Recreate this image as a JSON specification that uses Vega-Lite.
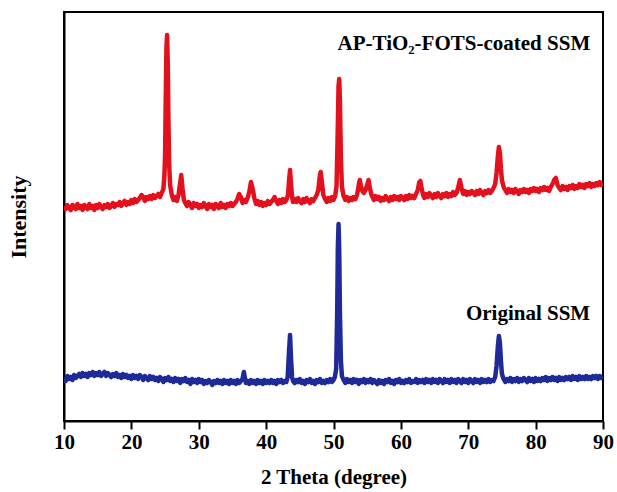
{
  "$schema": "https://vega.github.io/schema/vega-lite/v6.json",
  "width": 539,
  "height": 409,
  "autosize": {"type": "none"},
  "padding": {"left": 64, "top": 12, "right": 14, "bottom": 71},
  "background": "white",
  "config": {
    "view": {"stroke": "black", "strokeWidth": 2},
    "font": "Liberation Serif"
  },
  "datasets": {
    "xrd": [
{"s":"AP","x":10.00,"y":215},{"s":"AP","x":10.25,"y":212},{"s":"AP","x":10.50,"y":216},{"s":"AP","x":10.75,"y":213},{"s":"AP","x":11.00,"y":211},{"s":"AP","x":11.25,"y":216},{"s":"AP","x":11.50,"y":214},{"s":"AP","x":11.75,"y":212},{"s":"AP","x":12.00,"y":217},{"s":"AP","x":12.25,"y":213},{"s":"AP","x":12.50,"y":215},{"s":"AP","x":12.75,"y":211},{"s":"AP","x":13.00,"y":216},{"s":"AP","x":13.25,"y":214},{"s":"AP","x":13.50,"y":212},{"s":"AP","x":13.75,"y":217},{"s":"AP","x":14.00,"y":213},{"s":"AP","x":14.25,"y":215},{"s":"AP","x":14.50,"y":211},{"s":"AP","x":14.75,"y":216},{"s":"AP","x":15.00,"y":213},{"s":"AP","x":15.25,"y":217},{"s":"AP","x":15.50,"y":214},{"s":"AP","x":15.75,"y":212},{"s":"AP","x":16.00,"y":216},{"s":"AP","x":16.25,"y":214},{"s":"AP","x":16.50,"y":217},{"s":"AP","x":16.75,"y":213},{"s":"AP","x":17.00,"y":215},{"s":"AP","x":17.25,"y":218},{"s":"AP","x":17.50,"y":214},{"s":"AP","x":17.75,"y":217},{"s":"AP","x":18.00,"y":216},{"s":"AP","x":18.25,"y":219},{"s":"AP","x":18.50,"y":215},{"s":"AP","x":18.75,"y":218},{"s":"AP","x":19.00,"y":220},{"s":"AP","x":19.25,"y":216},{"s":"AP","x":19.50,"y":219},{"s":"AP","x":19.75,"y":217},{"s":"AP","x":20.00,"y":221},{"s":"AP","x":20.25,"y":218},{"s":"AP","x":20.50,"y":222},{"s":"AP","x":20.75,"y":219},{"s":"AP","x":21.00,"y":221},{"s":"AP","x":21.25,"y":223},{"s":"AP","x":21.50,"y":226},{"s":"AP","x":21.75,"y":224},{"s":"AP","x":22.00,"y":220},{"s":"AP","x":22.25,"y":224},{"s":"AP","x":22.50,"y":222},{"s":"AP","x":22.75,"y":225},{"s":"AP","x":23.00,"y":222},{"s":"AP","x":23.25,"y":226},{"s":"AP","x":23.50,"y":223},{"s":"AP","x":23.75,"y":225},{"s":"AP","x":24.00,"y":227},{"s":"AP","x":24.25,"y":224},{"s":"AP","x":24.50,"y":228},{"s":"AP","x":24.75,"y":232},{"s":"AP","x":24.90,"y":245},{"s":"AP","x":25.00,"y":265},{"s":"AP","x":25.10,"y":320},{"s":"AP","x":25.20,"y":372},{"s":"AP","x":25.30,"y":386},{"s":"AP","x":25.40,"y":358},{"s":"AP","x":25.50,"y":300},{"s":"AP","x":25.60,"y":258},{"s":"AP","x":25.75,"y":236},{"s":"AP","x":26.00,"y":226},{"s":"AP","x":26.25,"y":221},{"s":"AP","x":26.50,"y":224},{"s":"AP","x":26.75,"y":220},{"s":"AP","x":27.00,"y":226},{"s":"AP","x":27.20,"y":236},{"s":"AP","x":27.40,"y":246},{"s":"AP","x":27.60,"y":232},{"s":"AP","x":27.80,"y":221},{"s":"AP","x":28.00,"y":218},{"s":"AP","x":28.25,"y":215},{"s":"AP","x":28.50,"y":219},{"s":"AP","x":28.75,"y":216},{"s":"AP","x":29.00,"y":213},{"s":"AP","x":29.25,"y":218},{"s":"AP","x":29.50,"y":215},{"s":"AP","x":29.75,"y":217},{"s":"AP","x":30.00,"y":213},{"s":"AP","x":30.25,"y":216},{"s":"AP","x":30.50,"y":214},{"s":"AP","x":30.75,"y":218},{"s":"AP","x":31.00,"y":215},{"s":"AP","x":31.25,"y":212},{"s":"AP","x":31.50,"y":217},{"s":"AP","x":31.75,"y":214},{"s":"AP","x":32.00,"y":216},{"s":"AP","x":32.25,"y":212},{"s":"AP","x":32.50,"y":217},{"s":"AP","x":32.75,"y":215},{"s":"AP","x":33.00,"y":213},{"s":"AP","x":33.25,"y":218},{"s":"AP","x":33.50,"y":214},{"s":"AP","x":33.75,"y":216},{"s":"AP","x":34.00,"y":213},{"s":"AP","x":34.25,"y":217},{"s":"AP","x":34.50,"y":215},{"s":"AP","x":34.75,"y":218},{"s":"AP","x":35.00,"y":215},{"s":"AP","x":35.25,"y":217},{"s":"AP","x":35.50,"y":219},{"s":"AP","x":35.75,"y":222},{"s":"AP","x":36.00,"y":227},{"s":"AP","x":36.25,"y":224},{"s":"AP","x":36.50,"y":218},{"s":"AP","x":36.75,"y":221},{"s":"AP","x":37.00,"y":219},{"s":"AP","x":37.25,"y":223},{"s":"AP","x":37.50,"y":229},{"s":"AP","x":37.75,"y":239},{"s":"AP","x":38.00,"y":232},{"s":"AP","x":38.25,"y":223},{"s":"AP","x":38.50,"y":217},{"s":"AP","x":38.75,"y":220},{"s":"AP","x":39.00,"y":216},{"s":"AP","x":39.25,"y":219},{"s":"AP","x":39.50,"y":215},{"s":"AP","x":39.75,"y":218},{"s":"AP","x":40.00,"y":216},{"s":"AP","x":40.25,"y":220},{"s":"AP","x":40.50,"y":217},{"s":"AP","x":40.75,"y":219},{"s":"AP","x":41.00,"y":221},{"s":"AP","x":41.25,"y":224},{"s":"AP","x":41.50,"y":220},{"s":"AP","x":41.75,"y":217},{"s":"AP","x":42.00,"y":221},{"s":"AP","x":42.25,"y":218},{"s":"AP","x":42.50,"y":222},{"s":"AP","x":42.75,"y":219},{"s":"AP","x":43.00,"y":221},{"s":"AP","x":43.25,"y":226},{"s":"AP","x":43.40,"y":240},{"s":"AP","x":43.55,"y":251},{"s":"AP","x":43.70,"y":236},{"s":"AP","x":43.85,"y":224},{"s":"AP","x":44.00,"y":219},{"s":"AP","x":44.25,"y":222},{"s":"AP","x":44.50,"y":219},{"s":"AP","x":44.75,"y":223},{"s":"AP","x":45.00,"y":220},{"s":"AP","x":45.25,"y":218},{"s":"AP","x":45.50,"y":222},{"s":"AP","x":45.75,"y":219},{"s":"AP","x":46.00,"y":223},{"s":"AP","x":46.25,"y":220},{"s":"AP","x":46.50,"y":218},{"s":"AP","x":46.75,"y":222},{"s":"AP","x":47.00,"y":220},{"s":"AP","x":47.25,"y":223},{"s":"AP","x":47.50,"y":226},{"s":"AP","x":47.75,"y":231},{"s":"AP","x":47.95,"y":244},{"s":"AP","x":48.10,"y":249},{"s":"AP","x":48.25,"y":240},{"s":"AP","x":48.50,"y":226},{"s":"AP","x":48.75,"y":222},{"s":"AP","x":49.00,"y":219},{"s":"AP","x":49.25,"y":223},{"s":"AP","x":49.50,"y":220},{"s":"AP","x":49.75,"y":224},{"s":"AP","x":50.00,"y":221},{"s":"AP","x":50.25,"y":225},{"s":"AP","x":50.45,"y":235},{"s":"AP","x":50.60,"y":280},{"s":"AP","x":50.75,"y":335},{"s":"AP","x":50.85,"y":342},{"s":"AP","x":50.95,"y":320},{"s":"AP","x":51.10,"y":262},{"s":"AP","x":51.25,"y":234},{"s":"AP","x":51.50,"y":225},{"s":"AP","x":51.75,"y":221},{"s":"AP","x":52.00,"y":224},{"s":"AP","x":52.25,"y":220},{"s":"AP","x":52.50,"y":223},{"s":"AP","x":52.75,"y":221},{"s":"AP","x":53.00,"y":224},{"s":"AP","x":53.25,"y":222},{"s":"AP","x":53.50,"y":226},{"s":"AP","x":53.75,"y":236},{"s":"AP","x":53.90,"y":241},{"s":"AP","x":54.10,"y":234},{"s":"AP","x":54.30,"y":230},{"s":"AP","x":54.50,"y":228},{"s":"AP","x":54.75,"y":231},{"s":"AP","x":55.00,"y":236},{"s":"AP","x":55.20,"y":241},{"s":"AP","x":55.40,"y":233},{"s":"AP","x":55.60,"y":227},{"s":"AP","x":55.80,"y":224},{"s":"AP","x":56.00,"y":221},{"s":"AP","x":56.25,"y":225},{"s":"AP","x":56.50,"y":222},{"s":"AP","x":56.75,"y":224},{"s":"AP","x":57.00,"y":220},{"s":"AP","x":57.25,"y":223},{"s":"AP","x":57.50,"y":221},{"s":"AP","x":57.75,"y":225},{"s":"AP","x":58.00,"y":222},{"s":"AP","x":58.25,"y":220},{"s":"AP","x":58.50,"y":224},{"s":"AP","x":58.75,"y":221},{"s":"AP","x":59.00,"y":225},{"s":"AP","x":59.25,"y":222},{"s":"AP","x":59.50,"y":224},{"s":"AP","x":59.75,"y":221},{"s":"AP","x":60.00,"y":225},{"s":"AP","x":60.25,"y":223},{"s":"AP","x":60.50,"y":221},{"s":"AP","x":60.75,"y":225},{"s":"AP","x":61.00,"y":222},{"s":"AP","x":61.25,"y":226},{"s":"AP","x":61.50,"y":223},{"s":"AP","x":61.75,"y":225},{"s":"AP","x":62.00,"y":223},{"s":"AP","x":62.25,"y":227},{"s":"AP","x":62.50,"y":231},{"s":"AP","x":62.75,"y":239},{"s":"AP","x":62.90,"y":240},{"s":"AP","x":63.10,"y":232},{"s":"AP","x":63.30,"y":226},{"s":"AP","x":63.50,"y":223},{"s":"AP","x":63.75,"y":227},{"s":"AP","x":64.00,"y":224},{"s":"AP","x":64.25,"y":228},{"s":"AP","x":64.50,"y":225},{"s":"AP","x":64.75,"y":223},{"s":"AP","x":65.00,"y":227},{"s":"AP","x":65.25,"y":224},{"s":"AP","x":65.50,"y":228},{"s":"AP","x":65.75,"y":225},{"s":"AP","x":66.00,"y":223},{"s":"AP","x":66.25,"y":227},{"s":"AP","x":66.50,"y":225},{"s":"AP","x":66.75,"y":228},{"s":"AP","x":67.00,"y":224},{"s":"AP","x":67.25,"y":227},{"s":"AP","x":67.50,"y":225},{"s":"AP","x":67.75,"y":229},{"s":"AP","x":68.00,"y":226},{"s":"AP","x":68.25,"y":228},{"s":"AP","x":68.50,"y":233},{"s":"AP","x":68.75,"y":241},{"s":"AP","x":69.00,"y":233},{"s":"AP","x":69.25,"y":227},{"s":"AP","x":69.50,"y":230},{"s":"AP","x":69.75,"y":226},{"s":"AP","x":70.00,"y":229},{"s":"AP","x":70.25,"y":227},{"s":"AP","x":70.50,"y":230},{"s":"AP","x":70.75,"y":228},{"s":"AP","x":71.00,"y":226},{"s":"AP","x":71.25,"y":230},{"s":"AP","x":71.50,"y":227},{"s":"AP","x":71.75,"y":231},{"s":"AP","x":72.00,"y":228},{"s":"AP","x":72.25,"y":226},{"s":"AP","x":72.50,"y":230},{"s":"AP","x":72.75,"y":228},{"s":"AP","x":73.00,"y":231},{"s":"AP","x":73.25,"y":228},{"s":"AP","x":73.50,"y":230},{"s":"AP","x":73.75,"y":233},{"s":"AP","x":74.00,"y":237},{"s":"AP","x":74.20,"y":248},{"s":"AP","x":74.40,"y":265},{"s":"AP","x":74.55,"y":274},{"s":"AP","x":74.70,"y":268},{"s":"AP","x":74.85,"y":252},{"s":"AP","x":75.00,"y":241},{"s":"AP","x":75.25,"y":234},{"s":"AP","x":75.50,"y":231},{"s":"AP","x":75.75,"y":228},{"s":"AP","x":76.00,"y":232},{"s":"AP","x":76.25,"y":229},{"s":"AP","x":76.50,"y":231},{"s":"AP","x":76.75,"y":228},{"s":"AP","x":77.00,"y":232},{"s":"AP","x":77.25,"y":230},{"s":"AP","x":77.50,"y":227},{"s":"AP","x":77.75,"y":231},{"s":"AP","x":78.00,"y":229},{"s":"AP","x":78.25,"y":232},{"s":"AP","x":78.50,"y":229},{"s":"AP","x":78.75,"y":231},{"s":"AP","x":79.00,"y":228},{"s":"AP","x":79.25,"y":232},{"s":"AP","x":79.50,"y":230},{"s":"AP","x":79.75,"y":233},{"s":"AP","x":80.00,"y":230},{"s":"AP","x":80.25,"y":232},{"s":"AP","x":80.50,"y":229},{"s":"AP","x":80.75,"y":233},{"s":"AP","x":81.00,"y":231},{"s":"AP","x":81.25,"y":234},{"s":"AP","x":81.50,"y":231},{"s":"AP","x":81.75,"y":233},{"s":"AP","x":82.00,"y":230},{"s":"AP","x":82.25,"y":234},{"s":"AP","x":82.50,"y":237},{"s":"AP","x":82.75,"y":241},{"s":"AP","x":83.00,"y":243},{"s":"AP","x":83.25,"y":236},{"s":"AP","x":83.50,"y":233},{"s":"AP","x":83.75,"y":231},{"s":"AP","x":84.00,"y":235},{"s":"AP","x":84.25,"y":232},{"s":"AP","x":84.50,"y":234},{"s":"AP","x":84.75,"y":231},{"s":"AP","x":85.00,"y":235},{"s":"AP","x":85.25,"y":233},{"s":"AP","x":85.50,"y":236},{"s":"AP","x":85.75,"y":232},{"s":"AP","x":86.00,"y":235},{"s":"AP","x":86.25,"y":233},{"s":"AP","x":86.50,"y":237},{"s":"AP","x":86.75,"y":234},{"s":"AP","x":87.00,"y":236},{"s":"AP","x":87.25,"y":233},{"s":"AP","x":87.50,"y":237},{"s":"AP","x":87.75,"y":235},{"s":"AP","x":88.00,"y":238},{"s":"AP","x":88.25,"y":234},{"s":"AP","x":88.50,"y":237},{"s":"AP","x":88.75,"y":235},{"s":"AP","x":89.00,"y":238},{"s":"AP","x":89.25,"y":236},{"s":"AP","x":89.50,"y":239},{"s":"AP","x":89.75,"y":236},{"s":"AP","x":90.00,"y":238},
{"s":"O","x":10.00,"y":43},{"s":"O","x":10.25,"y":40},{"s":"O","x":10.50,"y":45},{"s":"O","x":10.75,"y":42},{"s":"O","x":11.00,"y":44},{"s":"O","x":11.25,"y":41},{"s":"O","x":11.50,"y":46},{"s":"O","x":11.75,"y":43},{"s":"O","x":12.00,"y":45},{"s":"O","x":12.25,"y":47},{"s":"O","x":12.50,"y":44},{"s":"O","x":12.75,"y":48},{"s":"O","x":13.00,"y":45},{"s":"O","x":13.25,"y":47},{"s":"O","x":13.50,"y":44},{"s":"O","x":13.75,"y":48},{"s":"O","x":14.00,"y":46},{"s":"O","x":14.25,"y":49},{"s":"O","x":14.50,"y":45},{"s":"O","x":14.75,"y":48},{"s":"O","x":15.00,"y":46},{"s":"O","x":15.25,"y":49},{"s":"O","x":15.50,"y":45},{"s":"O","x":15.75,"y":47},{"s":"O","x":16.00,"y":49},{"s":"O","x":16.25,"y":45},{"s":"O","x":16.50,"y":48},{"s":"O","x":16.75,"y":46},{"s":"O","x":17.00,"y":44},{"s":"O","x":17.25,"y":47},{"s":"O","x":17.50,"y":45},{"s":"O","x":17.75,"y":48},{"s":"O","x":18.00,"y":44},{"s":"O","x":18.25,"y":46},{"s":"O","x":18.50,"y":43},{"s":"O","x":18.75,"y":47},{"s":"O","x":19.00,"y":44},{"s":"O","x":19.25,"y":46},{"s":"O","x":19.50,"y":43},{"s":"O","x":19.75,"y":45},{"s":"O","x":20.00,"y":42},{"s":"O","x":20.25,"y":46},{"s":"O","x":20.50,"y":43},{"s":"O","x":20.75,"y":45},{"s":"O","x":21.00,"y":42},{"s":"O","x":21.25,"y":46},{"s":"O","x":21.50,"y":44},{"s":"O","x":21.75,"y":41},{"s":"O","x":22.00,"y":45},{"s":"O","x":22.25,"y":43},{"s":"O","x":22.50,"y":41},{"s":"O","x":22.75,"y":45},{"s":"O","x":23.00,"y":42},{"s":"O","x":23.25,"y":44},{"s":"O","x":23.50,"y":41},{"s":"O","x":23.75,"y":43},{"s":"O","x":24.00,"y":40},{"s":"O","x":24.25,"y":44},{"s":"O","x":24.50,"y":42},{"s":"O","x":24.75,"y":39},{"s":"O","x":25.00,"y":43},{"s":"O","x":25.25,"y":41},{"s":"O","x":25.50,"y":44},{"s":"O","x":25.75,"y":40},{"s":"O","x":26.00,"y":42},{"s":"O","x":26.25,"y":39},{"s":"O","x":26.50,"y":43},{"s":"O","x":26.75,"y":40},{"s":"O","x":27.00,"y":42},{"s":"O","x":27.25,"y":38},{"s":"O","x":27.50,"y":42},{"s":"O","x":27.75,"y":40},{"s":"O","x":28.00,"y":43},{"s":"O","x":28.25,"y":39},{"s":"O","x":28.50,"y":41},{"s":"O","x":28.75,"y":37},{"s":"O","x":29.00,"y":42},{"s":"O","x":29.25,"y":39},{"s":"O","x":29.50,"y":41},{"s":"O","x":29.75,"y":38},{"s":"O","x":30.00,"y":42},{"s":"O","x":30.25,"y":39},{"s":"O","x":30.50,"y":41},{"s":"O","x":30.75,"y":37},{"s":"O","x":31.00,"y":40},{"s":"O","x":31.25,"y":38},{"s":"O","x":31.50,"y":41},{"s":"O","x":31.75,"y":39},{"s":"O","x":32.00,"y":36},{"s":"O","x":32.25,"y":40},{"s":"O","x":32.50,"y":38},{"s":"O","x":32.75,"y":41},{"s":"O","x":33.00,"y":38},{"s":"O","x":33.25,"y":40},{"s":"O","x":33.50,"y":37},{"s":"O","x":33.75,"y":41},{"s":"O","x":34.00,"y":38},{"s":"O","x":34.25,"y":40},{"s":"O","x":34.50,"y":37},{"s":"O","x":34.75,"y":41},{"s":"O","x":35.00,"y":38},{"s":"O","x":35.25,"y":40},{"s":"O","x":35.50,"y":37},{"s":"O","x":35.75,"y":41},{"s":"O","x":36.00,"y":38},{"s":"O","x":36.25,"y":40},{"s":"O","x":36.50,"y":42},{"s":"O","x":36.70,"y":49},{"s":"O","x":36.90,"y":41},{"s":"O","x":37.00,"y":38},{"s":"O","x":37.25,"y":40},{"s":"O","x":37.50,"y":37},{"s":"O","x":37.75,"y":41},{"s":"O","x":38.00,"y":38},{"s":"O","x":38.25,"y":40},{"s":"O","x":38.50,"y":37},{"s":"O","x":38.75,"y":41},{"s":"O","x":39.00,"y":38},{"s":"O","x":39.25,"y":40},{"s":"O","x":39.50,"y":37},{"s":"O","x":39.75,"y":41},{"s":"O","x":40.00,"y":38},{"s":"O","x":40.25,"y":40},{"s":"O","x":40.50,"y":38},{"s":"O","x":40.75,"y":41},{"s":"O","x":41.00,"y":38},{"s":"O","x":41.25,"y":40},{"s":"O","x":41.50,"y":37},{"s":"O","x":41.75,"y":41},{"s":"O","x":42.00,"y":39},{"s":"O","x":42.25,"y":41},{"s":"O","x":42.50,"y":38},{"s":"O","x":42.75,"y":40},{"s":"O","x":43.00,"y":39},{"s":"O","x":43.20,"y":44},{"s":"O","x":43.40,"y":70},{"s":"O","x":43.55,"y":86},{"s":"O","x":43.70,"y":62},{"s":"O","x":43.85,"y":44},{"s":"O","x":44.00,"y":40},{"s":"O","x":44.25,"y":38},{"s":"O","x":44.50,"y":41},{"s":"O","x":44.75,"y":39},{"s":"O","x":45.00,"y":42},{"s":"O","x":45.25,"y":38},{"s":"O","x":45.50,"y":40},{"s":"O","x":45.75,"y":37},{"s":"O","x":46.00,"y":41},{"s":"O","x":46.25,"y":39},{"s":"O","x":46.50,"y":42},{"s":"O","x":46.75,"y":38},{"s":"O","x":47.00,"y":40},{"s":"O","x":47.25,"y":37},{"s":"O","x":47.50,"y":41},{"s":"O","x":47.75,"y":39},{"s":"O","x":48.00,"y":42},{"s":"O","x":48.25,"y":38},{"s":"O","x":48.50,"y":40},{"s":"O","x":48.75,"y":38},{"s":"O","x":49.00,"y":41},{"s":"O","x":49.25,"y":39},{"s":"O","x":49.50,"y":42},{"s":"O","x":49.75,"y":39},{"s":"O","x":50.00,"y":41},{"s":"O","x":50.20,"y":44},{"s":"O","x":50.40,"y":52},{"s":"O","x":50.55,"y":110},{"s":"O","x":50.65,"y":175},{"s":"O","x":50.75,"y":197},{"s":"O","x":50.85,"y":170},{"s":"O","x":50.95,"y":110},{"s":"O","x":51.10,"y":60},{"s":"O","x":51.25,"y":45},{"s":"O","x":51.50,"y":41},{"s":"O","x":51.75,"y":38},{"s":"O","x":52.00,"y":42},{"s":"O","x":52.25,"y":39},{"s":"O","x":52.50,"y":41},{"s":"O","x":52.75,"y":38},{"s":"O","x":53.00,"y":42},{"s":"O","x":53.25,"y":39},{"s":"O","x":53.50,"y":41},{"s":"O","x":53.75,"y":37},{"s":"O","x":54.00,"y":41},{"s":"O","x":54.25,"y":39},{"s":"O","x":54.50,"y":42},{"s":"O","x":54.75,"y":38},{"s":"O","x":55.00,"y":41},{"s":"O","x":55.25,"y":39},{"s":"O","x":55.50,"y":42},{"s":"O","x":55.75,"y":38},{"s":"O","x":56.00,"y":41},{"s":"O","x":56.25,"y":39},{"s":"O","x":56.50,"y":37},{"s":"O","x":56.75,"y":41},{"s":"O","x":57.00,"y":38},{"s":"O","x":57.25,"y":40},{"s":"O","x":57.50,"y":37},{"s":"O","x":57.75,"y":41},{"s":"O","x":58.00,"y":39},{"s":"O","x":58.25,"y":42},{"s":"O","x":58.50,"y":38},{"s":"O","x":58.75,"y":40},{"s":"O","x":59.00,"y":37},{"s":"O","x":59.25,"y":41},{"s":"O","x":59.50,"y":39},{"s":"O","x":59.75,"y":42},{"s":"O","x":60.00,"y":38},{"s":"O","x":60.25,"y":40},{"s":"O","x":60.50,"y":38},{"s":"O","x":60.75,"y":41},{"s":"O","x":61.00,"y":39},{"s":"O","x":61.25,"y":42},{"s":"O","x":61.50,"y":38},{"s":"O","x":61.75,"y":40},{"s":"O","x":62.00,"y":39},{"s":"O","x":62.25,"y":42},{"s":"O","x":62.50,"y":38},{"s":"O","x":62.75,"y":41},{"s":"O","x":63.00,"y":39},{"s":"O","x":63.25,"y":41},{"s":"O","x":63.50,"y":38},{"s":"O","x":63.75,"y":42},{"s":"O","x":64.00,"y":39},{"s":"O","x":64.25,"y":41},{"s":"O","x":64.50,"y":38},{"s":"O","x":64.75,"y":42},{"s":"O","x":65.00,"y":39},{"s":"O","x":65.25,"y":41},{"s":"O","x":65.50,"y":38},{"s":"O","x":65.75,"y":42},{"s":"O","x":66.00,"y":40},{"s":"O","x":66.25,"y":38},{"s":"O","x":66.50,"y":42},{"s":"O","x":66.75,"y":39},{"s":"O","x":67.00,"y":41},{"s":"O","x":67.25,"y":38},{"s":"O","x":67.50,"y":42},{"s":"O","x":67.75,"y":39},{"s":"O","x":68.00,"y":41},{"s":"O","x":68.25,"y":38},{"s":"O","x":68.50,"y":42},{"s":"O","x":68.75,"y":40},{"s":"O","x":69.00,"y":38},{"s":"O","x":69.25,"y":42},{"s":"O","x":69.50,"y":39},{"s":"O","x":69.75,"y":41},{"s":"O","x":70.00,"y":38},{"s":"O","x":70.25,"y":42},{"s":"O","x":70.50,"y":40},{"s":"O","x":70.75,"y":38},{"s":"O","x":71.00,"y":42},{"s":"O","x":71.25,"y":39},{"s":"O","x":71.50,"y":41},{"s":"O","x":71.75,"y":38},{"s":"O","x":72.00,"y":42},{"s":"O","x":72.25,"y":39},{"s":"O","x":72.50,"y":41},{"s":"O","x":72.75,"y":39},{"s":"O","x":73.00,"y":42},{"s":"O","x":73.25,"y":39},{"s":"O","x":73.50,"y":41},{"s":"O","x":73.75,"y":40},{"s":"O","x":74.00,"y":44},{"s":"O","x":74.20,"y":55},{"s":"O","x":74.40,"y":75},{"s":"O","x":74.55,"y":85},{"s":"O","x":74.70,"y":78},{"s":"O","x":74.85,"y":60},{"s":"O","x":75.00,"y":47},{"s":"O","x":75.25,"y":42},{"s":"O","x":75.50,"y":39},{"s":"O","x":75.75,"y":42},{"s":"O","x":76.00,"y":40},{"s":"O","x":76.25,"y":43},{"s":"O","x":76.50,"y":39},{"s":"O","x":76.75,"y":42},{"s":"O","x":77.00,"y":40},{"s":"O","x":77.25,"y":43},{"s":"O","x":77.50,"y":39},{"s":"O","x":77.75,"y":42},{"s":"O","x":78.00,"y":40},{"s":"O","x":78.25,"y":43},{"s":"O","x":78.50,"y":41},{"s":"O","x":78.75,"y":39},{"s":"O","x":79.00,"y":43},{"s":"O","x":79.25,"y":40},{"s":"O","x":79.50,"y":42},{"s":"O","x":79.75,"y":39},{"s":"O","x":80.00,"y":43},{"s":"O","x":80.25,"y":40},{"s":"O","x":80.50,"y":42},{"s":"O","x":80.75,"y":40},{"s":"O","x":81.00,"y":43},{"s":"O","x":81.25,"y":41},{"s":"O","x":81.50,"y":44},{"s":"O","x":81.75,"y":40},{"s":"O","x":82.00,"y":43},{"s":"O","x":82.25,"y":41},{"s":"O","x":82.50,"y":44},{"s":"O","x":82.75,"y":41},{"s":"O","x":83.00,"y":43},{"s":"O","x":83.25,"y":40},{"s":"O","x":83.50,"y":44},{"s":"O","x":83.75,"y":41},{"s":"O","x":84.00,"y":43},{"s":"O","x":84.25,"y":41},{"s":"O","x":84.50,"y":44},{"s":"O","x":84.75,"y":42},{"s":"O","x":85.00,"y":44},{"s":"O","x":85.25,"y":41},{"s":"O","x":85.50,"y":45},{"s":"O","x":85.75,"y":42},{"s":"O","x":86.00,"y":44},{"s":"O","x":86.25,"y":41},{"s":"O","x":86.50,"y":45},{"s":"O","x":86.75,"y":42},{"s":"O","x":87.00,"y":44},{"s":"O","x":87.25,"y":42},{"s":"O","x":87.50,"y":45},{"s":"O","x":87.75,"y":42},{"s":"O","x":88.00,"y":44},{"s":"O","x":88.25,"y":42},{"s":"O","x":88.50,"y":45},{"s":"O","x":88.75,"y":43},{"s":"O","x":89.00,"y":45},{"s":"O","x":89.25,"y":42},{"s":"O","x":89.50,"y":45},{"s":"O","x":89.75,"y":43},{"s":"O","x":90.00,"y":44}
    ],
    "labels": [
      {"x": 88.1, "y": 377, "t": "AP-TiO₂-FOTS-coated SSM"},
      {"x": 88.1, "y": 107, "t": "Original SSM"}
    ]
  },
  "layer": [
    {
      "data": {"name": "xrd"},
      "mark": {"type": "line", "strokeWidth": 4.5, "strokeJoin": "round", "clip": true},
      "encoding": {
        "x": {
          "field": "x", "type": "quantitative",
          "scale": {"domain": [10, 90], "nice": false, "zero": false},
          "axis": {
            "title": "2 Theta (degree)",
            "values": [10, 15, 20, 25, 30, 35, 40, 45, 50, 55, 60, 65, 70, 75, 80, 85, 90],
            "labelExpr": "datum.value % 10 === 0 ? datum.label : ''",
            "tickSize": {"condition": {"test": "datum.value % 10 === 0", "value": 8}, "value": 5},
            "tickWidth": 2, "tickColor": "black",
            "domainWidth": 2, "domainColor": "black",
            "grid": false,
            "labelFont": "Liberation Serif", "labelFontSize": 21, "labelFontWeight": "bold", "labelColor": "black",
            "labelPadding": 2, "labelFlush": false, "labelOverlap": false,
            "titleFont": "Liberation Serif", "titleFontSize": 21, "titleFontWeight": "bold", "titleColor": "black",
            "titlePadding": 14
          }
        },
        "y": {
          "field": "y", "type": "quantitative",
          "scale": {"domain": [0, 409], "nice": false, "zero": true},
          "axis": {
            "title": "Intensity",
            "ticks": false, "labels": false, "grid": false,
            "domainWidth": 2, "domainColor": "black",
            "titleFont": "Liberation Serif", "titleFontSize": 22, "titleFontWeight": "bold", "titleColor": "black",
            "titlePadding": 34
          }
        },
        "color": {
          "field": "s", "type": "nominal",
          "scale": {"domain": ["AP", "O"], "range": ["#e3101e", "#1f2a99"]},
          "legend": null
        },
        "detail": {"field": "s"}
      }
    },
    {
      "data": {"name": "labels"},
      "mark": {"type": "text", "align": "right", "baseline": "middle", "font": "Liberation Serif", "fontSize": 21, "fontWeight": "bold", "color": "black"},
      "encoding": {
        "x": {"field": "x", "type": "quantitative"},
        "y": {"field": "y", "type": "quantitative"},
        "text": {"field": "t"}
      }
    }
  ]
}
